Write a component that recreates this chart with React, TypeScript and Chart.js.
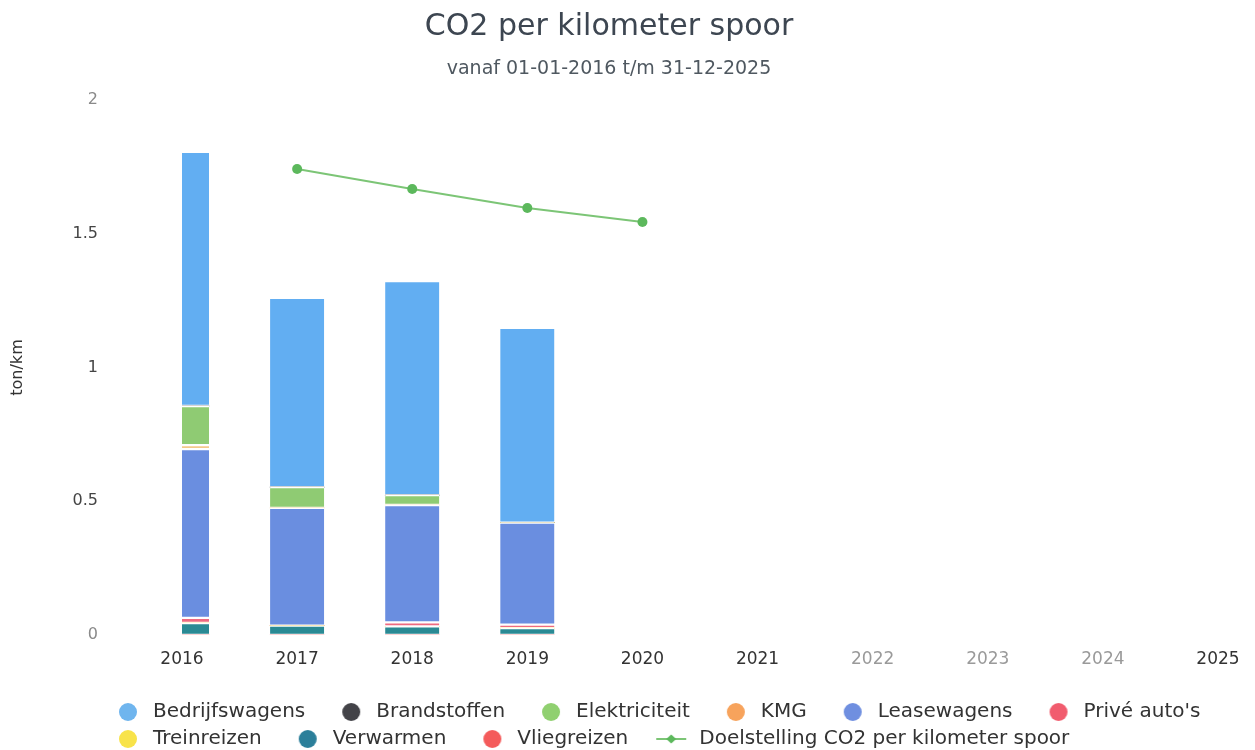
import React, { useEffect, useRef } from "react";
import { Chart, registerables } from "chart.js";

Chart.register(...registerables);

const years = ["2016", "2017", "2018", "2019", "2020", "2021", "2022", "2023", "2024", "2025"];

const bedrijfswagens = [0.95, 0.707, 0.8, 0.728, null, null, null, null, null, null];
const brandstoffen = [0, 0, 0, 0, null, null, null, null, null, null];
const elektriciteit = [0.146, 0.078, 0.037, 0, null, null, null, null, null, null];
const kmg = [0.015, 0, 0, 0, null, null, null, null, null, null];
const leasewagens = [0.631, 0.44, 0.439, 0.381, null, null, null, null, null, null];
const priveAutos = [0.019, 0, 0.015, 0.013, null, null, null, null, null, null];
const treinreizen = [0, 0, 0, 0, null, null, null, null, null, null];
const verwarmen = [0.045, 0.035, 0.032, 0.026, null, null, null, null, null, null];
const vliegreizen = [0, 0, 0, 0, null, null, null, null, null, null];
const doelstelling = [null, 1.742, 1.667, 1.596, 1.544, null, null, null, null, null];

const yTicks = [0, 0.5, 1, 1.5, 2];

const barSeries = [
  { label: "Bedrijfswagens", data: bedrijfswagens, color: "#62aef2", legend: "#6fb5ee" },
  { label: "Brandstoffen", data: brandstoffen, color: "#434348", legend: "#434348" },
  { label: "Elektriciteit", data: elektriciteit, color: "#8fcb73", legend: "#90d070" },
  { label: "KMG", data: kmg, color: "#f3c98a", legend: "#f7a35c" },
  { label: "Leasewagens", data: leasewagens, color: "#6a8ee0", legend: "#6f8fe0" },
  { label: "Privé auto's", data: priveAutos, color: "#ee6a80", legend: "#f15c6e" },
  { label: "Treinreizen", data: treinreizen, color: "#f5e050", legend: "#f8e34a" },
  { label: "Verwarmen", data: verwarmen, color: "#2a8a94", legend: "#2b7f9a" },
  { label: "Vliegreizen", data: vliegreizen, color: "#f45b5b", legend: "#f45b5b" },
];
const lineLabel = "Doelstelling CO2 per kilometer spoor";
const lineColor = "#7cc576";
const pointColor = "#5cb85c";

const FONT = "'DejaVu Sans', sans-serif";
const W = 1255;
const H = 750;

function circleIcon(color: string): HTMLCanvasElement {
  const c = document.createElement("canvas");
  c.width = 60;
  c.height = 20;
  const ctx = c.getContext("2d")!;
  ctx.fillStyle = color;
  ctx.beginPath();
  ctx.arc(42, 10, 9, 0, Math.PI * 2);
  ctx.fill();
  return c;
}

function lineIcon(color: string, dot: string): HTMLCanvasElement {
  const c = document.createElement("canvas");
  c.width = 60;
  c.height = 20;
  const ctx = c.getContext("2d")!;
  ctx.strokeStyle = color;
  ctx.lineWidth = 2;
  ctx.beginPath();
  ctx.moveTo(24, 10);
  ctx.lineTo(54, 10);
  ctx.stroke();
  ctx.fillStyle = dot;
  ctx.beginPath();
  ctx.moveTo(39, 5.5);
  ctx.lineTo(44, 10);
  ctx.lineTo(39, 14.5);
  ctx.lineTo(34, 10);
  ctx.closePath();
  ctx.fill();
  return c;
}

const legendShift = {
  id: "legendShift",
  afterLayout(chart: any) {
    const lg = chart.legend;
    if (!lg) return;
    lg.left = 82;
    lg.right = W;
    const dy = 695 - lg.top;
    lg.top += dy;
    lg.bottom += dy;
  },
};

export default function App() {
  const ref = useRef<HTMLCanvasElement | null>(null);

  useEffect(() => {
    if (!ref.current) return;
    const icons = [
      ...barSeries.map((s) => circleIcon(s.legend)),
      lineIcon(lineColor, pointColor),
    ];
    const datasets: any[] = barSeries.map((s, i) => ({
      type: "bar",
      label: s.label,
      data: s.data,
      backgroundColor: s.color,
      borderColor: "#ffffff",
      borderWidth: { top: 1.5, bottom: 1.5, left: 0, right: 0 },
      borderSkipped: false,
      barThickness: 54,
      stack: "co2",
      order: barSeries.length - i,
    }));
    datasets.push({
      type: "line",
      label: lineLabel,
      data: doelstelling,
      borderColor: lineColor,
      borderWidth: 2,
      backgroundColor: pointColor,
      pointBackgroundColor: pointColor,
      pointBorderWidth: 0,
      pointRadius: 5,
      spanGaps: false,
      stack: "target",
      order: 0,
    });

    const chart = new Chart(ref.current, {
      data: { labels: years, datasets },
      plugins: [legendShift],
      options: {
        responsive: false,
        animation: false,
        layout: { padding: { left: 0, right: 37, top: 0, bottom: 0 } },
        plugins: {
          title: {
            display: true,
            text: "CO2 per kilometer spoor",
            color: "#3d4651",
            font: { family: FONT, size: 30, weight: "normal" },
            padding: { top: 9, bottom: 12.6 },
          },
          subtitle: {
            display: true,
            text: "vanaf 01-01-2016 t/m 31-12-2025",
            color: "#4f5860",
            font: { family: FONT, size: 19, weight: "normal" },
            padding: { top: 0, bottom: 19.6 },
          },
          legend: {
            display: true,
            position: "bottom",
            align: "start",
            labels: {
              usePointStyle: true,
              pointStyleWidth: 54,
              padding: 7,
              color: "#333333",
              font: { family: FONT, size: 20 },
              generateLabels: (ch: any) =>
                ch.data.datasets.map((d: any, i: number) => ({
                  text: d.label,
                  fillStyle: "rgba(0,0,0,0)",
                  strokeStyle: "rgba(0,0,0,0)",
                  lineWidth: 0,
                  pointStyle: icons[i],
                  hidden: false,
                  datasetIndex: i,
                  fontColor: "#333333",
                })),
            },
          },
          tooltip: { enabled: false },
        },
        scales: {
          x: {
            type: "category",
            stacked: true,
            offset: false,
            grid: { display: false, drawTicks: false },
            border: { display: false },
            ticks: {
              autoSkip: false,
              maxRotation: 0,
              padding: 14,
              font: { family: FONT, size: 17 },
              color: (c: any) => (c.index >= 6 && c.index <= 8 ? "#9a9a9a" : "#333333"),
            },
            afterFit: (s: any) => {
              s.height = 51;
            },
          },
          y: {
            stacked: true,
            min: yTicks[0],
            max: yTicks[yTicks.length - 1],
            grid: { display: false, drawTicks: false },
            border: { display: false },
            ticks: {
              stepSize: 0.5,
              padding: 84,
              font: { family: FONT, size: 16 },
              callback: (v: any) => String(Number(v)),
              color: (c: any) =>
                c.tick && (c.tick.value === 0 || c.tick.value === 2) ? "#8a8a8a" : "#444444",
            },
            title: {
              display: true,
              text: "ton/km",
              color: "#333333",
              font: { family: FONT, size: 16 },
              padding: { top: 8.4, bottom: 0 },
            },
            afterFit: (s: any) => {
              s.width = 182;
            },
          },
        },
      } as any,
    });
    return () => chart.destroy();
  }, []);

  return (
    <div style={{ position: "fixed", left: 0, top: 0, width: W + "px", height: H + "px", background: "#fff" }}>
      <canvas ref={ref} width={W} height={H} style={{ display: "block" }} />
    </div>
  );
}
